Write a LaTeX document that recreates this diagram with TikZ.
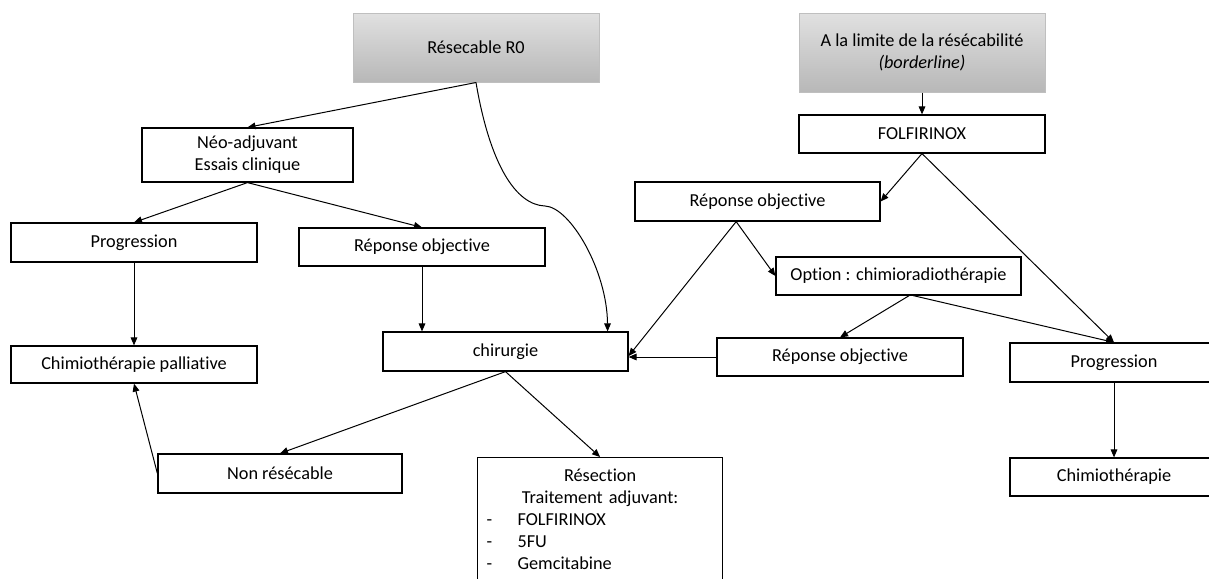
\documentclass[tikz,border=0pt]{standalone}
\usepackage{fontspec}
\setmainfont{Carlito}[Ligatures=NoCommon]
\usetikzlibrary{arrows.meta}

\tikzset{every picture/.style={line width=0.75pt}}
\tikzset{
  flowbox/.style={draw, line width=0.9pt, rectangle, inner sep=0pt, align=center,
    minimum width=184.5pt, minimum height=28.5pt, font=\fontsize{13.7}{16.5}\selectfont},
  greybox/.style={flowbox, draw=black!25, line width=0.75pt, top color=black!12, bottom color=black!28},
  link/.style={-{Triangle[length=6pt,width=5pt]}, line width=0.75pt},
}

\begin{document}
\begin{tikzpicture}[x=0.75pt,y=0.75pt,yscale=-1,xscale=1]
        \useasboundingbox (0,0) rectangle (1209,578);

        %Shape: Rectangle, grey headers
        \node [greybox, minimum height=51.75pt] (r0) at (476,47.5) {Résecable R0};
        \node [greybox, minimum height=59.25pt] (bord) at (922,52.5) {A la limite de la résécabilité\\\textit{(borderline)}};

        %Shape: Rectangle, left branch
        \node [flowbox, minimum width=158.25pt, minimum height=40.5pt] (neo) at (247.5,155) {Néo-adjuvant\\Essais clinique};
        \node [flowbox, minimum height=29.25pt] (progL) at (134,242.5) {Progression};
        \node [flowbox] (repL) at (422,247) {Réponse objective};
        \node [flowbox, minimum height=27.75pt] (pal) at (134,364.5) {Chimiothérapie palliative};
        \node [flowbox, minimum width=183.75pt, minimum height=29.25pt] (chir) at (505.5,351.5) {chirurgie};
        \node [flowbox, minimum width=183pt, minimum height=29.25pt] (nonres) at (280,473.5) {Non résécable};
        \node [flowbox, anchor=north west, minimum width=183.75pt, text width=183.75pt, align=left,
               inner ysep=8.5pt] (resec) at (477,457) {%
          \makebox[183.75pt]{Résection}\\
          \makebox[183.75pt]{Traitement adjuvant:}\\
          \hspace*{6.75pt}\makebox[23.25pt][l]{-}FOLFIRINOX\\
          \hspace*{6.75pt}\makebox[23.25pt][l]{-}5FU\\
          \hspace*{6.75pt}\makebox[23.25pt][l]{-}Gemcitabine};

        %Shape: Rectangle, right branch
        \node [flowbox] (folf) at (922,134) {FOLFIRINOX};
        \node [flowbox, minimum width=183.75pt, minimum height=29.25pt] (repR) at (757.5,201.5) {Réponse objective};
        \node [flowbox, minimum width=183.75pt] (opt) at (898.5,276) {Option : chimioradiothérapie};
        \node [flowbox] (repM) at (840,357) {Réponse objective};
        \node [flowbox, minimum width=156pt, minimum height=29.25pt] (progR) at (1114,362.5) {Progression};
        \node [flowbox, minimum width=156pt] (chimR) at (1114,477) {Chimiothérapie};

        %Straight Lines
        \draw [link] (r0.south) -- (neo.north);
        \draw [link] (neo.south) -- (progL.north);
        \draw [link] (neo.south) -- (repL.north);
        \draw [link] (progL.south) -- (pal.north);
        \draw [link] (repL.south) -- (repL.south |- chir.north);
        \draw [link] (chir.south) -- (nonres.north);
        \draw [link] (chir.south) -- (resec.north);
        \draw [link] (nonres.west) -- (pal.south);
        %Curve Lines
        \draw [link] (r0.south) .. controls (490,165) and (516,205) .. (545,206)
              .. controls (570,207) and (607,270) .. ([xshift=-15.75pt]chir.north east);

        \draw [link] (bord.south) -- (folf.north);
        \draw [link] (folf.south) -- (repR.east);
        \draw [link] (folf.south) -- (progR.north);
        \draw [link] ([xshift=-16pt]repR.south) -- ([yshift=3.4pt]chir.east);
        \draw [link] ([xshift=-16pt]repR.south) -- (opt.west);
        \draw [link] ([xshift=8pt]opt.south) -- (repM.north);
        \draw [link] ([xshift=11pt]opt.south) -- (progR.north);
        \draw [link] (repM.west) -- (chir.east |- repM.west);
        \draw [link] (progR.south) -- (chimR.north);
\end{tikzpicture}
\end{document}
